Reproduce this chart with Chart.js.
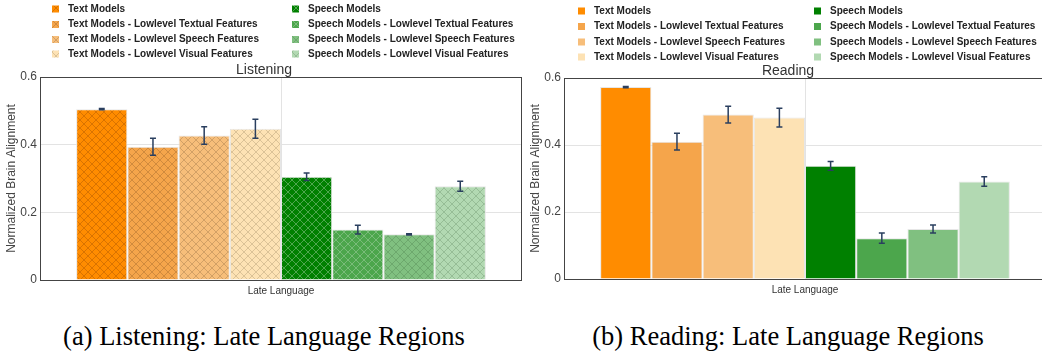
<!DOCTYPE html>
<html>
<head>
<meta charset="utf-8">
<title>Late Language Regions</title>
<script src="https://cdn.jsdelivr.net/npm/chart.js@4/dist/chart.umd.min.js"></script>
<style>
  body { margin: 0; width: 1042px; height: 353px; overflow: hidden; background: #fff; position: relative; }
  .panel { position: absolute; top: 0; width: 524px; height: 353px; }
  .panel canvas { position: absolute; left: 0; top: 0; }
  .caption { position: absolute; top: 321px; left: 0; width: 528px; text-align: center;
             font: 26.5px "Liberation Serif", "Times New Roman", serif; color: #000; white-space: nowrap; }
</style>
</head>
<body>
<div class="panel" style="left:0">
  <canvas id="listening" width="524" height="300"></canvas>
  <div class="caption">(a) Listening: Late Language Regions</div>
</div>
<div class="panel" style="left:524px">
  <canvas id="reading" width="524" height="300"></canvas>
  <div class="caption">(b) Reading: Late Language Regions</div>
</div>
<script>
var seriesNames = [
  'Text Models',
  'Text Models - Lowlevel Textual Features',
  'Text Models - Lowlevel Speech Features',
  'Text Models - Lowlevel Visual Features',
  'Speech Models',
  'Speech Models - Lowlevel Textual Features',
  'Speech Models - Lowlevel Speech Features',
  'Speech Models - Lowlevel Visual Features'
];
var regions = ['Late Language'];
var yTicks = [0, 0.2, 0.4, 0.6];

var listeningValues = [0.505, 0.394, 0.427, 0.447, 0.305, 0.149, 0.135, 0.277];
var listeningErrors = [0.002, 0.025, 0.026, 0.028, 0.011, 0.013, 0.002, 0.015];
var readingValues   = [0.573, 0.410, 0.491, 0.482, 0.338, 0.122, 0.149, 0.291];
var readingErrors   = [0.002, 0.025, 0.025, 0.028, 0.013, 0.015, 0.012, 0.014];

var barColors = ['#ff8c00', '#f5a54b', '#f7be7a', '#fde2b4', '#008000', '#4ca64c', '#80c080', '#b2d9b2'];
// line colour of the x hatch, per series
var hatchInk = [
  'rgba(130,60,0,0.3)', 'rgba(100,60,20,0.25)', 'rgba(100,70,40,0.25)', 'rgba(100,80,50,0.22)',
  'rgba(255,255,255,0.3)', 'rgba(255,255,255,0.25)', 'rgba(40,80,40,0.22)', 'rgba(40,80,40,0.2)'
];

Chart.defaults.font.family = '"Liberation Sans", Arial, sans-serif';

function crossHatch(ctx, color, ink) {
  var tile = document.createElement('canvas');
  tile.width = 8; tile.height = 8;
  var g = tile.getContext('2d');
  g.fillStyle = color;
  g.fillRect(0, 0, 8, 8);
  g.strokeStyle = ink;
  g.lineWidth = 1;
  g.beginPath();
  g.moveTo(-1, -1); g.lineTo(9, 9);
  g.moveTo(-1, 7); g.lineTo(1, 9);
  g.moveTo(7, -1); g.lineTo(9, 1);
  g.moveTo(9, -1); g.lineTo(-1, 9);
  g.moveTo(-1, 1); g.lineTo(1, -1);
  g.moveTo(7, 9); g.lineTo(9, 7);
  g.stroke();
  return ctx.createPattern(tile, 'repeat');
}

// symmetric error bars from dataset.errors
var errorBars = {
  id: 'errorBars',
  afterDatasetsDraw: function(chart) {
    var ctx = chart.ctx, y = chart.scales.y;
    ctx.save();
    ctx.strokeStyle = '#2a3f5f';
    ctx.lineWidth = 1.5;
    chart.data.datasets.forEach(function(ds, i) {
      chart.getDatasetMeta(i).data.forEach(function(bar, j) {
        var v = ds.data[j], e = ds.errors[j];
        var top = y.getPixelForValue(v + e), bot = y.getPixelForValue(v - e);
        ctx.beginPath();
        ctx.moveTo(bar.x, top); ctx.lineTo(bar.x, bot);
        ctx.moveTo(bar.x - 3, top); ctx.lineTo(bar.x + 3, top);
        ctx.moveTo(bar.x - 3, bot); ctx.lineTo(bar.x + 3, bot);
        ctx.stroke();
      });
    });
    ctx.restore();
  }
};

// frame, panel title and two-column legend
var panelDecor = {
  id: 'panelDecor',
  afterDraw: function(chart, args, opts) {
    var ctx = chart.ctx, a = chart.chartArea;
    ctx.save();
    ctx.strokeStyle = '#444';
    ctx.lineWidth = 1;
    ctx.strokeRect(Math.round(a.left) + 0.5, Math.round(a.top) + 0.5,
                   Math.round(a.right - a.left) - 1, Math.round(a.bottom - a.top));

    ctx.fillStyle = '#333';
    ctx.font = '14px "Liberation Sans", Arial, sans-serif';
    ctx.textAlign = 'center';
    ctx.textBaseline = 'alphabetic';
    ctx.fillText(opts.title, opts.titleX, opts.titleY);

    ctx.font = 'bold 10px "Liberation Sans", Arial, sans-serif';
    ctx.textAlign = 'left';
    ctx.textBaseline = 'middle';
    chart.data.datasets.forEach(function(ds, i) {
      var col = i < 4 ? 0 : 1, ry = opts.rowY[i % 4];
      ctx.fillStyle = ds.backgroundColor;
      ctx.fillRect(opts.swatchX[col], ry - 3.5, 7, 7);
      ctx.fillStyle = '#222';
      ctx.fillText(ds.label, opts.textX[col], ry);
    });
    ctx.restore();
  }
};

function buildChart(id, values, errors, hatched, decor, top, xHeight) {
  var ctx = document.getElementById(id).getContext('2d');
  var datasets = seriesNames.map(function(name, i) {
    return {
      label: name,
      data: [values[i]],
      errors: [errors[i]],
      backgroundColor: hatched ? crossHatch(ctx, barColors[i], hatchInk[i]) : barColors[i],
      borderColor: '#e6e6e6',
      borderWidth: 1,
      categoryPercentage: 0.85,
      barPercentage: 1.0
    };
  });
  return new Chart(ctx, {
    type: 'bar',
    data: { labels: regions, datasets: datasets },
    plugins: [errorBars, panelDecor],
    options: {
      responsive: false,
      animation: false,
      layout: { padding: { top: top, right: 2, left: 0, bottom: 0 } },
      plugins: {
        legend: { display: false },
        tooltip: { enabled: false },
        panelDecor: decor
      },
      scales: {
        x: {
          grid: { offset: false, color: '#e3e3e3', drawTicks: false },
          border: { display: false },
          ticks: { color: '#333', font: { size: 10 }, padding: 5 },
          afterFit: function(axis) { axis.height = xHeight; }
        },
        y: {
          min: 0,
          max: 0.6,
          afterBuildTicks: function(axis) {
            axis.ticks = yTicks.map(function(v) { return { value: v }; });
          },
          grid: { color: '#e3e3e3', drawTicks: false },
          border: { display: false },
          ticks: { color: '#444', font: { size: 12 }, padding: 3,
                   callback: function(v) { return String(v); } },
          title: { display: true, text: 'Normalized Brain Alignment', color: '#444',
                   font: { size: 12 }, padding: { top: 4, bottom: 0 } },
          afterFit: function(axis) { axis.width = 40; }
        }
      }
    }
  });
}

buildChart('listening', listeningValues, listeningErrors, true, {
  title: 'Listening', titleX: 264, titleY: 74,
  swatchX: [52, 292], textX: [68, 308], rowY: [9, 24.5, 39.5, 54]
}, 77, 20);

buildChart('reading', readingValues, readingErrors, false, {
  title: 'Reading', titleX: 264, titleY: 75,
  swatchX: [54, 290], textX: [70, 306], rowY: [11, 26.5, 42, 57]
}, 78, 21);
</script>
</body>
</html>
